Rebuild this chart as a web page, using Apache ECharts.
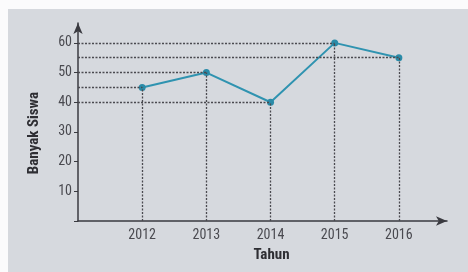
<!DOCTYPE html>
<html>
<head>
<meta charset="utf-8">
<script src="https://cdn.jsdelivr.net/npm/echarts@6/dist/echarts.min.js"></script>
<style>
  html, body { margin: 0; padding: 0; background: #fbfbfc; }
  #chart { position: absolute; left: 8px; top: 9px; width: 460px; height: 263px; background: #d6d9de; }
</style>
</head>
<body>
<div id="chart"></div>
<script>
// data
const years = [2012, 2013, 2014, 2015, 2016]
const students = [45, 50, 40, 60, 55]
const yTicks = [10, 20, 30, 40, 50, 60]

const font = '"Liberation Sans Narrow", "Roboto Condensed", "Liberation Sans", Arial, sans-serif'
const guide = { color: '#4a4a4f', type: [2, 1.5], width: 1.3 }

const chart = echarts.init(document.getElementById('chart'))

// dotted guide lines from each point to both axes
const guides = []
years.forEach((y, i) => {
  guides.push([{ coord: [2011, students[i]] }, { coord: [y, students[i]] }])
  guides.push([{ coord: [y, 0] }, { coord: [y, students[i]] }])
})

chart.setOption({
  animation: false,
  grid: { left: 70, right: 21, top: 14, bottom: 51 },
  xAxis: {
    type: 'value',
    min: 2011,
    max: 2016.75,
    interval: 1,
    name: 'Tahun',
    nameLocation: 'middle',
    nameGap: 27,
    nameTextStyle: { fontFamily: font, fontWeight: 'bold', fontSize: 15, color: '#2e2e33', padding: [0, 0, 0, 18] },
    axisLine: { symbol: ['none', 'arrow'], symbolSize: [7, 11], lineStyle: { color: '#3a3a40', width: 1.5 } },
    axisTick: { show: false },
    splitLine: { show: false },
    axisLabel: {
      showMaxLabel: false,
      fontFamily: font, fontSize: 14, color: '#4a4a50', margin: 7,
      formatter: v => years.includes(v) ? String(v) : ''
    }
  },
  yAxis: {
    type: 'value',
    min: 0,
    max: 66.7,
    interval: 10,
    name: 'Banyak Siswa',
    nameLocation: 'middle',
    nameRotate: 90,
    nameGap: 36,
    nameTextStyle: { fontFamily: font, fontWeight: 'bold', fontSize: 15, color: '#2e2e33', padding: [0, 22, 0, 0] },
    axisLine: { show: true, symbol: ['none', 'arrow'], symbolSize: [7, 11], lineStyle: { color: '#3a3a40', width: 1.5 } },
    axisTick: { show: true, length: 4, lineStyle: { color: '#3a3a40' } },
    splitLine: { show: false },
    axisLabel: {
      showMaxLabel: false,
      fontFamily: font, fontSize: 14, color: '#4a4a50', margin: 6,
      formatter: v => yTicks.includes(v) ? String(v) : ''
    }
  },
  series: [{
    type: 'line',
    data: years.map((y, i) => [y, students[i]]),
    symbol: 'circle',
    symbolSize: 7,
    lineStyle: { color: '#2f93b0', width: 2 },
    itemStyle: { color: '#2a8ba8' },
    z: 3,
    markLine: {
      silent: true,
      symbol: 'none',
      label: { show: false },
      lineStyle: guide,
      data: guides
    }
  }]
})
</script>
</body>
</html>
